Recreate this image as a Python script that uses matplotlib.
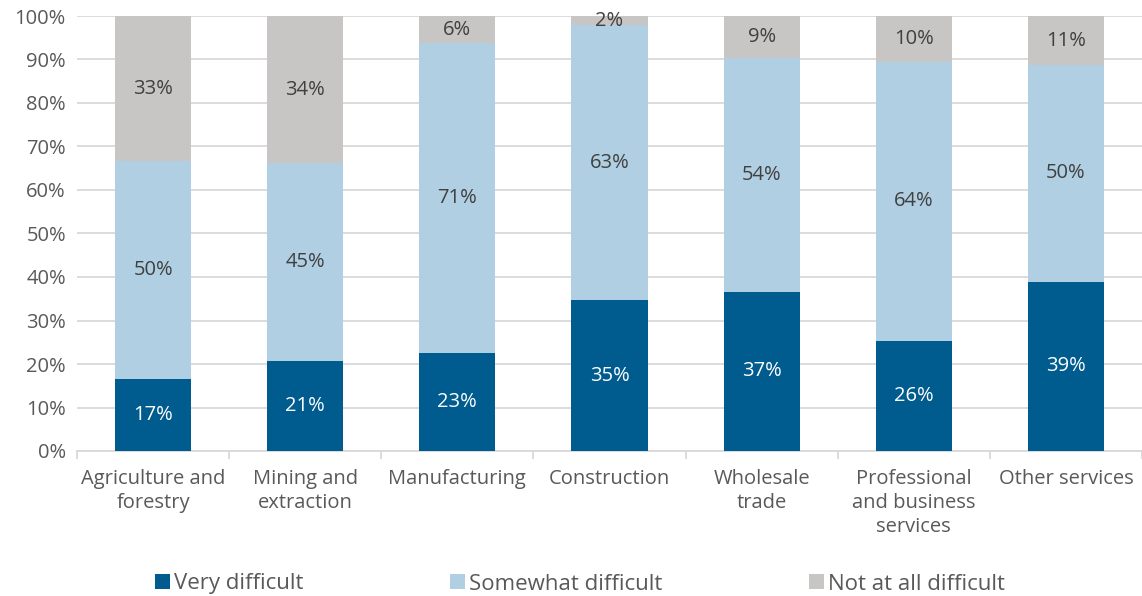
import matplotlib.pyplot as plt
import numpy as np

plt.rcParams['font.family'] = ['Open Sans', 'DejaVu Sans']

categorias = ["Agriculture and\nforestry", "Mining and\nextraction", "Manufacturing",
              "Construction", "Wholesale\ntrade", "Professional\nand business\nservices",
              "Other services"]
muy_dificil = [16.6, 20.8, 22.6, 34.7, 36.6, 25.4, 38.9]
algo_dificil = [50.0, 45.3, 71.1, 63.2, 53.7, 64.0, 49.8]
nada_dificil = [33.4, 33.9, 6.3, 2.1, 9.7, 10.6, 11.3]
etiquetas_muy = ["17%", "21%", "23%", "35%", "37%", "26%", "39%"]
etiquetas_algo = ["50%", "45%", "71%", "63%", "54%", "64%", "50%"]
etiquetas_nada = ["33%", "34%", "6%", "2%", "9%", "10%", "11%"]

azul = "#005b8f"
celeste = "#b0cfe2"
gris = "#c8c6c4"

fig = plt.figure(figsize=(11.42, 5.96), dpi=100)
ax = fig.add_axes([77/1142, 1-451/596, 1065/1142, 435/596])

x = np.arange(len(categorias))
w = 0.5
a = np.array(muy_dificil)
b = np.array(algo_dificil)
c = np.array(nada_dificil)
ax.bar(x, a, w, color=azul, label="Very difficult", zorder=3)
ax.bar(x, b, w, bottom=a, color=celeste, label="Somewhat difficult", zorder=3)
ax.bar(x, c, w, bottom=a+b, color=gris, label="Not at all difficult", zorder=3)

tam = 14.5
for i in range(len(x)):
    ax.text(x[i], a[i]/2, etiquetas_muy[i], ha="center", va="center", color="white", fontsize=tam, zorder=4)
    ax.text(x[i], a[i]+b[i]/2, etiquetas_algo[i], ha="center", va="center", color="#404040", fontsize=tam, zorder=4)
    ax.text(x[i], a[i]+b[i]+c[i]/2, etiquetas_nada[i], ha="center", va="center", color="#404040", fontsize=tam, zorder=4)

ax.set_xlim(-0.5, len(x)-0.5)
ax.set_ylim(0, 100)
ax.set_yticks(np.arange(0, 101, 10))
ax.set_yticklabels([f"{v}%" for v in range(0, 101, 10)])
ax.yaxis.grid(True, color="#d9d9d9", linewidth=1.3, zorder=0)
ax.tick_params(axis="y", length=0, labelsize=tam, labelcolor="#595959", pad=8)

ax.set_xticks(x)
ax.set_xticklabels(categorias, linespacing=1.25)
ax.tick_params(axis="x", length=0, labelsize=tam, labelcolor="#595959", pad=13)
ax.set_xticks(np.arange(-0.5, len(x)), minor=True)
ax.tick_params(axis="x", which="minor", length=6, color="#d9d9d9", width=1.3)

for s in ["top", "right", "left"]:
    ax.spines[s].set_visible(False)
ax.spines["bottom"].set_color("#d9d9d9")
ax.spines["bottom"].set_linewidth(1.3)

fig.legend(loc="center", bbox_to_anchor=(0.508, 1-584/596), ncol=3, frameon=False,
           fontsize=16, labelcolor="#595959", handlelength=0.65, handleheight=0.65,
           handletextpad=0.2, columnspacing=6.6)

plt.savefig("out.png", dpi=100)
